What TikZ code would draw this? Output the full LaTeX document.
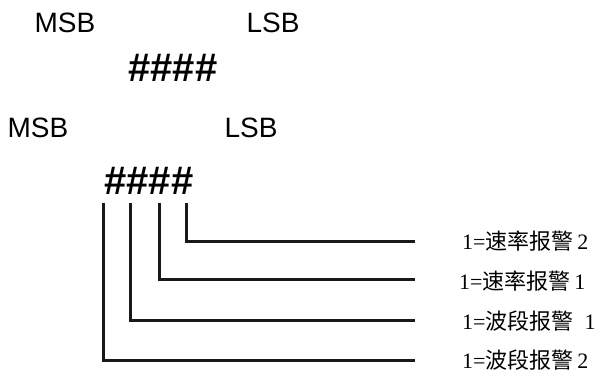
\documentclass[tikz,border=0pt]{standalone}
\usepackage{fontspec}
\setmainfont{Liberation Serif}
\setsansfont{Liberation Sans}
\newfontfamily\cjk{Noto Sans CJK SC}
\begin{document}
\begin{tikzpicture}[x=1pt,y=-1pt,
  bitlabel/.style={font=\sffamily\fontsize{28}{30}\selectfont, inner sep=0pt},
  hashes/.style={font=\sffamily\bfseries\fontsize{40}{44}\selectfont, inner sep=0pt},
  alarm/.style={font=\fontsize{22}{24}\selectfont, anchor=west, inner sep=0pt},
  wire/.style={line width=3pt, black!90}]
\useasboundingbox (0,0) rectangle (601,375);
\node[bitlabel] (msb1) at (65,23) {MSB};
\node[bitlabel] (lsb1) at (273,23) {LSB};
\node[hashes] (hash1) at (173,68) {\#\#\#\#};
\node[bitlabel] (msb2) at (38,128) {MSB};
\node[bitlabel] (lsb2) at (251,128) {LSB};
\node[hashes] (hash2) at (149,181) {\#\#\#\#};
\coordinate (b1) at (103,203);
\coordinate (b2) at (130,203);
\coordinate (b3) at (159,203);
\coordinate (b4) at (186,203);
\coordinate (e1) at (415,360);
\coordinate (e2) at (415,320);
\coordinate (e3) at (415,279);
\coordinate (e4) at (415,241);
\node[alarm] (l4) at (462,241) {1={\cjk 速率报警}\,2};
\node[alarm] (l3) at (459,281) {1={\cjk 速率报警}\,1};
\node[alarm] (l2) at (462,321) {1={\cjk 波段报警}\ \ 1};
\node[alarm] (l1) at (462,360) {1={\cjk 波段报警}\,2};
\draw[wire] (b4) |- (e4);
\draw[wire] (b3) |- (e3);
\draw[wire] (b2) |- (e2);
\draw[wire] (b1) |- (e1);
\end{tikzpicture}
\end{document}
